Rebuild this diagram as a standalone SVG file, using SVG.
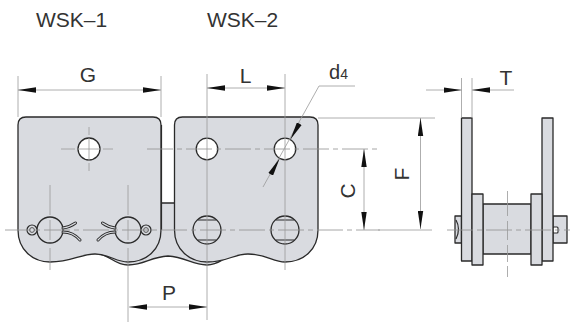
<svg xmlns="http://www.w3.org/2000/svg" width="570" height="322" viewBox="0 0 570 322">
<defs>
<style>
text{font-family:"Liberation Sans",Arial,sans-serif;fill:#333}
.p{fill:#d9dbe0;stroke:#2a2a2a;stroke-width:1.3;stroke-linejoin:round}
.h{fill:#fff;stroke:#2a2a2a;stroke-width:1.3}
.o{fill:none;stroke:#2a2a2a;stroke-width:1.2}
.d{fill:none;stroke:#999;stroke-width:.8}
.c{fill:none;stroke:#8f8f8f;stroke-width:.8;stroke-dasharray:26 4 5 4}
.leg{fill:none;stroke:#2a2a2a;stroke-width:3;stroke-linecap:round}
.legi{fill:none;stroke:#d9dbe0;stroke-width:1.2;stroke-linecap:round}
</style>
<marker id="a" viewBox="0 0 18 6" refX="18" refY="3" markerWidth="18" markerHeight="6" markerUnits="userSpaceOnUse" orient="auto-start-reverse"><path d="M0 .3 L18 3 L0 5.7 Z" fill="#111"/></marker>
<g id="cotter">
<path class="leg" d="M63 228 Q70 227 75.5 223"/><path class="legi" d="M63 228 Q70 227 75.5 223"/>
<path class="leg" d="M63 232 Q73 232 80 240"/><path class="legi" d="M63 232 Q73 232 80 240"/>
<circle cx="32" cy="230" r="5" fill="#d9dbe0" stroke="#2a2a2a" stroke-width="1.2"/>
<circle cx="32" cy="230" r="2.4" fill="none" stroke="#555" stroke-width="1"/>
</g>
</defs>
<rect width="570" height="322" fill="#fff"/>
<g id="titles">
<text x="36" y="27" font-size="21">WSK–1</text>
<text x="207" y="27" font-size="21">WSK–2</text>
</g>
<g id="back-links">
<path class="p" d="M100 254 C112 257 115 265 128 265 C145 265 150 257 168 256 C186 257 192 265 207 265 C218 265 222 259 232 255 L232 203 H100 Z"/>
<path d="M98 204 H162 V253 H98 Z" fill="#d9dbe0"/>
</g>
<g id="plate-wsk1">
<path class="p" d="M18 125 Q18 117 26 117 H153 Q161 117 161 125 V230 C161 250 146 262 128 262 C116 262 109 254 95 254 C80 254 72 262 50 262 C33 262 18 250 18 230 Z"/>
<path class="o" d="M161.5 125 V230" stroke-width="1.8"/>
<circle class="h" cx="89" cy="149" r="11"/>
<circle cx="50" cy="230" r="13" fill="#d9dbe0" stroke="#2a2a2a" stroke-width="1.3"/>
<circle cx="128" cy="230" r="13" fill="#d9dbe0" stroke="#2a2a2a" stroke-width="1.3"/>
<use href="#cotter"/>
<use href="#cotter" transform="translate(178 0) scale(-1 1)"/>
</g>
<g id="plate-wsk2">
<path class="p" d="M174.5 125 Q174.5 117 182.5 117 H310 Q318 117 318 125 V230 C318 250 303 262 285 262 C273 262 266 254 248 254 C233 254 228 262 207 262 C190 262 174.5 250 174.5 230 Z"/>
<circle class="h" cx="207" cy="149" r="10.8"/>
<circle class="h" cx="285" cy="149" r="10.8"/>
<circle cx="207" cy="230" r="14" fill="#d9dbe0" stroke="#2a2a2a" stroke-width="1.3"/>
<circle cx="285" cy="230" r="14" fill="#d9dbe0" stroke="#2a2a2a" stroke-width="1.3"/>
<path class="o" d="M197.5 220 H216.5 M197.5 240 H216.5 M275.5 220 H294.5 M275.5 240 H294.5"/>
</g>
<g id="side-view">
<path class="p" d="M455 216 H461.5 V243 H455 Z"/>
<path class="p" d="M553 216 H567 V243 H553 Z"/>
<path class="o" d="M456 220 Q461 229 456 239"/>
<rect x="553" y="227" width="5" height="6" rx="1" fill="#fff" stroke="#2a2a2a" stroke-width="1.1"/>
<rect class="p" x="483" y="204" width="48" height="50"/>
<rect class="p" x="461.5" y="118" width="10.5" height="143"/>
<rect class="p" x="542" y="118" width="11" height="143"/>
<rect class="p" x="472" y="194" width="11" height="71"/>
<rect class="p" x="531" y="194" width="11" height="71"/>
</g>
<g id="connectors">
<path class="c" d="M147 149 H380 M5 230 H380 M447 230 H570"/>
<path class="d" d="M61 149 H75 M78 149 H100 M103 149 H113 M89 127 V135 M89 138 V161 M89 163 V171 M50 185 V215 M50 220 V240 M50 248 V270 M128 185 V215 M128 220 V240 M128 248 V322 M507.5 191 V216 M507.5 221 V240 M507.5 245 V262 M507.5 266 V277"/>
<path class="d" d="M18 76 V117 M161 76 V117 M207 74 V280 M285 74 V270 M207 280 V320 M318 118 H435 M378 230 H432 M461.5 78 V118 M472 78 V118"/>
<path class="d" d="M18 90 H161" marker-start="url(#a)" marker-end="url(#a)"/>
<path class="d" d="M207 88 H285" marker-start="url(#a)" marker-end="url(#a)"/>
<path class="d" d="M129 307 H207" marker-start="url(#a)" marker-end="url(#a)"/>
<path class="d" d="M364 149 V230" marker-start="url(#a)" marker-end="url(#a)"/>
<path class="d" d="M420.5 118 V229" marker-start="url(#a)" marker-end="url(#a)"/>
<path class="d" d="M426 90 H461.5" marker-end="url(#a)"/>
<path class="d" d="M514 90 H472" marker-end="url(#a)"/>
<path class="d" d="M355 86 H319 L263 187"/>
<path class="d" d="M300 122.5 L290.4 139.4" marker-end="url(#a)"/>
<path class="d" d="M270 175.5 L279.6 158.6" marker-end="url(#a)"/>
</g>
<g id="labels">
<text x="88" y="82" font-size="21" text-anchor="middle">G</text>
<text x="245.5" y="82.5" font-size="21" text-anchor="middle">L</text>
<text x="329" y="79" font-size="20">d<tspan font-size="14">4</tspan></text>
<text x="506" y="85" font-size="21" text-anchor="middle">T</text>
<text x="169" y="300" font-size="21" text-anchor="middle">P</text>
<text transform="translate(355 191) rotate(-90)" font-size="21" text-anchor="middle">C</text>
<text transform="translate(409 174) rotate(-90)" font-size="21" text-anchor="middle">F</text>
</g>
</svg>
